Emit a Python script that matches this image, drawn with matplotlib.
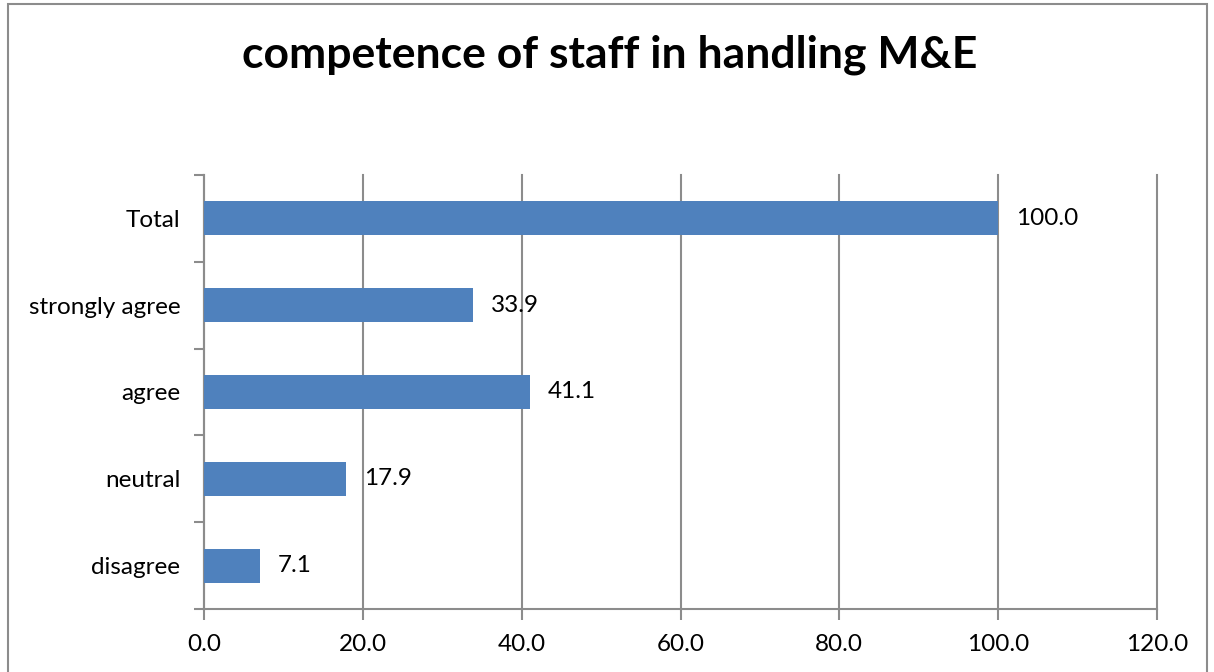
import matplotlib
matplotlib.use("Agg")
import matplotlib.pyplot as plt
from matplotlib.patches import Rectangle

categories = ["disagree", "neutral", "agree", "strongly agree", "Total"]
values = [7.1, 17.9, 41.1, 33.9, 100.0]
xticks = [0, 20, 40, 60, 80, 100, 120]
title = "competence of staff in handling M&E"

plt.rcParams['font.family'] = ['Lato', 'DejaVu Sans']
W, H = 1214, 672
fig = plt.figure(figsize=(W/100, H/100), dpi=100)
ax = fig.add_axes([204/W, 1-609/H, (1157-204)/W, (609-175)/H])

grid_c = '#8c8c8c'
ax.barh(range(len(categories)), values, height=0.39, color='#4f81bd', zorder=3)
for i, v in enumerate(values):
    ax.text(v + 2.2, i, f"{v:.1f}", va='center', ha='left', fontsize=17.5, color='black')

ax.set_xlim(0, 120)
ax.set_ylim(-0.5, len(categories) - 0.5)
ax.set_xticks(xticks)
ax.set_xticklabels([f"{t:.1f}" for t in xticks], fontsize=17.5)
ax.set_yticks(range(len(categories)))
ax.set_yticklabels(categories, fontsize=17.5)
ax.tick_params(axis='y', length=0, pad=17)
ax.tick_params(axis='x', length=8, color=grid_c, width=1.5, pad=10)
ax.set_yticks([i - 0.5 for i in range(len(categories) + 1)], minor=True)
ax.tick_params(axis='y', which='minor', length=7, color=grid_c, width=1.5)
ax.grid(axis='x', color=grid_c, linewidth=1.5, zorder=0)
for ln in ax.get_xgridlines():
    ln.set_clip_on(False)
for s in ['top', 'right']:
    ax.spines[s].set_visible(False)
ax.spines['left'].set_color(grid_c)
ax.spines['bottom'].set_color(grid_c)
ax.spines['left'].set_linewidth(1.5)
ax.spines['bottom'].set_linewidth(1.5)

fig.text(610/W, 1-55/H, title, ha='center', va='center', fontsize=32, fontweight='bold')

fig.patches.append(Rectangle((8/W, -0.05), (1207-8)/W, 1-4/H+0.05, transform=fig.transFigure,
                             fill=False, edgecolor='#8c8c8c', linewidth=1.5))
fig.savefig("out.png", dpi=100)
